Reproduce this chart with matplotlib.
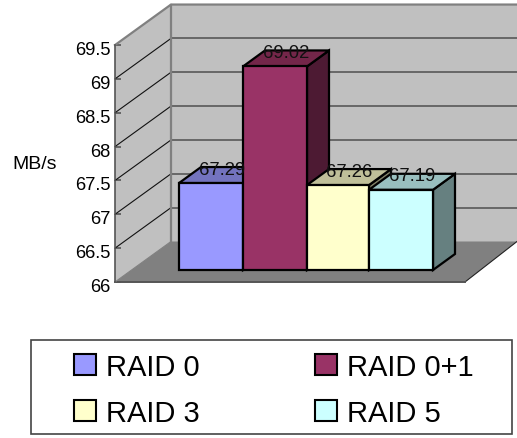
import matplotlib
matplotlib.use("Agg")
import matplotlib.pyplot as plt
from matplotlib.patches import Polygon, Patch, Rectangle
from matplotlib.transforms import ScaledTranslation

categories = ["RAID 0", "RAID 0+1", "RAID 3", "RAID 5"]
throughput = [67.29, 69.02, 67.26, 67.19]
y_ticks = [66, 66.5, 67, 67.5, 68, 68.5, 69, 69.5]
y_tick_labels = ["66", "66.5", "67", "67.5", "68", "68.5", "69", "69.5"]

front_colors = ["#9999FF", "#993366", "#FFFFCC", "#CCFFFF"]
top_colors = ["#7373BF", "#732649", "#BFBF99", "#99BFBF"]
side_colors = ["#4D4D80", "#4D1A33", "#808066", "#668080"]

PX = 67.7  # pixels per MB/s on the value axis
BAR_PX = 67.4  # bars come out a bit shorter than the wall scale


def val(py):
    """Value that sits at image row py."""
    return 66 + (283 - py) / PX


plt.rcParams["font.family"] = ["Liberation Sans", "DejaVu Sans"]
fig = plt.figure(figsize=(5.17, 4.39), dpi=100)
ax = fig.add_axes([0, 0, 1, 1])
ax.set_xlim(0, 517)
ax.set_ylim(val(439), val(0))
ax.patch.set_alpha(0)

# walls and floor
x0, x1 = 115, 171
floor_back, floor_front = val(242.5), val(283)
dy_wall = floor_back - floor_front
ax.add_patch(Polygon([(x1, floor_back), (x1, 69.5 + dy_wall), (517, 69.5 + dy_wall), (517, floor_back)],
                     fc="#C0C0C0", ec="none", zorder=1))
ax.add_patch(Polygon([(x0, 66), (x0, 69.5), (x1, 69.5 + dy_wall), (x1, floor_back)],
                     fc="#C0C0C0", ec="none", zorder=1))
ax.add_patch(Polygon([(x0, 66), (x1, floor_back), (517, floor_back), (465, 66)],
                     fc="#808080", ec="none", zorder=1))
ax.plot([465, 517], [66, floor_back], color="#222222", lw=0.8, zorder=2)
ax.plot([x0, 465], [66, 66], color="#555555", lw=1.4, zorder=2)

# grid on both walls
for t in y_ticks[1:-1]:
    ax.plot([x1, 517], [t + dy_wall, t + dy_wall], color="#606060", lw=1.3, zorder=2)
    ax.plot([x0, x1], [t, t + dy_wall], color="#111111", lw=0.8, zorder=2)
ax.plot([x0, x1, 517], [69.5, 69.5 + dy_wall, 69.5 + dy_wall], color="#808080", lw=1.6, zorder=2)
ax.plot([x1, x1], [floor_back, 69.5 + dy_wall], color="#808080", lw=1.6, zorder=2)
ax.plot([x0, x1], [66, floor_back], color="#808080", lw=0.8, zorder=2)

# bars, left to right so that each covers the one before it
edges = [179, 243, 307, 369, 433]
bar_base = val(271)
dx, dy = 22, 16 / PX
bar_kw = dict(ec="black", lw=1.6, joinstyle="miter", zorder=3)
for i, v in enumerate(throughput):
    left, right = edges[i], edges[i + 1]
    top = bar_base + (v - 66) * BAR_PX / PX
    ax.add_patch(Polygon([(right, bar_base), (right + dx, bar_base + dy), (right + dx, top + dy), (right, top)],
                         fc=side_colors[i], **bar_kw))
    ax.add_patch(Polygon([(left, top), (left + dx, top + dy), (right + dx, top + dy), (right, top)],
                         fc=top_colors[i], **bar_kw))
    ax.add_patch(Rectangle((left, bar_base), right - left, top - bar_base, fc=front_colors[i], **bar_kw))
    ax.text((left + right) / 2 + 11, top + dy - 2 / PX, f"{v:.2f}", fontsize=13.3, ha="center", va="center",
            color="#111111", zorder=5)

# value axis
for side in ["top", "right", "bottom"]:
    ax.spines[side].set_visible(False)
ax.spines["left"].set_position(("data", x0))
ax.spines["left"].set_bounds(66, 69.5)
ax.spines["left"].set_color("#555555")
ax.spines["left"].set_linewidth(1.2)
ax.spines["left"].set_zorder(4)
ax.set_xticks([])
ax.set_yticks(y_ticks, y_tick_labels, fontsize=13.2)
ax.tick_params(axis="y", direction="in", length=4.5, width=1.2, color="#555555", pad=3)
for lbl in ax.get_yticklabels():
    lbl.set_transform(lbl.get_transform() + ScaledTranslation(0, -2.5 / 100, fig.dpi_scale_trans))
ax.text(12, val(165), "MB/s", fontsize=14, ha="left", va="center")

# legend
ax.add_patch(Rectangle((31, val(435)), 481, val(341) - val(435), fc="white", ec="#444444", lw=1.2, zorder=3))
# matplotlib fills columns first, the reference reads row by row
order = [0, 2, 1, 3]
handles = [Patch(fc=front_colors[i], ec="black", lw=1.5) for i in order]
labels = [categories[i] for i in order]
leg = ax.legend(handles, labels, ncol=2, frameon=False, fontsize=21, loc="center left",
                bbox_to_anchor=(74 / 517, 1 - 391 / 439), borderpad=0, borderaxespad=0,
                handlelength=0.74, handleheight=0.74, handletextpad=0.34, columnspacing=3.97,
                labelspacing=0.62)
leg.set_zorder(6)

fig.savefig("out.png", dpi=100)
